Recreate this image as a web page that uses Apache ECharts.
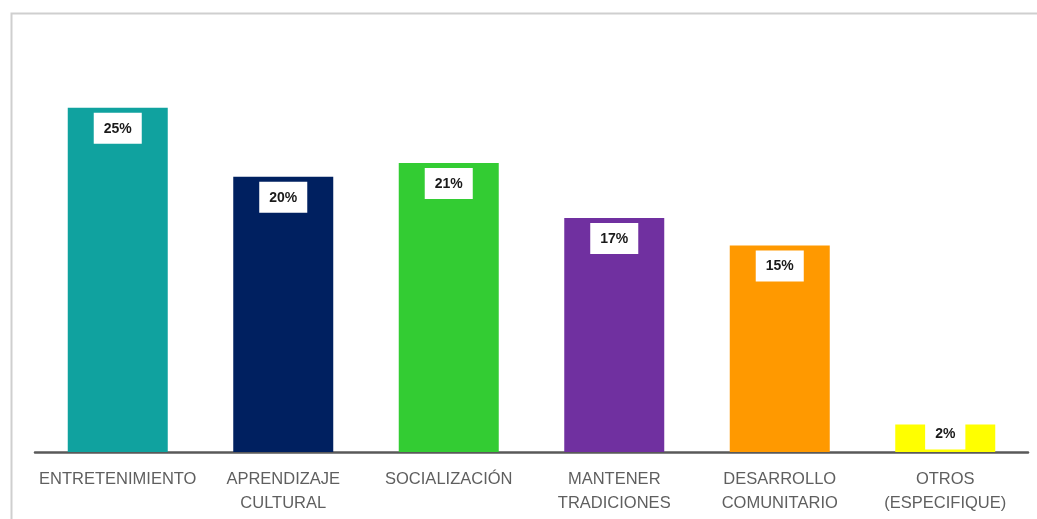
<!DOCTYPE html>
<html>
<head>
<meta charset="utf-8">
<script src="https://cdn.jsdelivr.net/npm/echarts@6/dist/echarts.min.js"></script>
<style>
  html, body { margin: 0; padding: 0; background: #ffffff; }
  #chart { width: 1037px; height: 519px; }
</style>
</head>
<body>
<div id="chart"></div>
<script>
// Motivos de participación (porcentaje de respuestas)
const categories = [
  'ENTRETENIMIENTO',
  'APRENDIZAJE\nCULTURAL',
  'SOCIALIZACIÓN',
  'MANTENER\nTRADICIONES',
  'DESARROLLO\nCOMUNITARIO',
  'OTROS\n(ESPECIFIQUE)'
];
const values = [25, 20, 21, 17, 15, 2];
const barColors = ['#10a29f', '#002060', '#33cc33', '#7030a0', '#ff9900', '#ffff00'];

const chart = echarts.init(document.getElementById('chart'), null, { renderer: 'canvas' });

chart.setOption({
  backgroundColor: '#ffffff',
  animation: false,
  graphic: [{
    type: 'rect',
    shape: { x: 11.5, y: 13.5, width: 1100, height: 600 },
    style: { fill: 'none', stroke: '#cfcfcf', lineWidth: 2 },
    silent: true,
    z: -10
  }],
  grid: { left: 35, right: 9, top: 39, bottom: 67 },
  xAxis: {
    type: 'category',
    data: categories,
    axisLine: { lineStyle: { color: '#595959', width: 2.5 } },
    axisTick: { show: false },
    axisLabel: {
      interval: 0,
      color: '#5f5f5f',
      fontFamily: 'Liberation Sans, Arial, sans-serif',
      fontSize: 16.5,
      lineHeight: 24,
      margin: 15
    }
  },
  yAxis: {
    type: 'value',
    min: 0,
    max: 30,
    show: false,
    splitLine: { show: false }
  },
  series: [{
    type: 'bar',
    barWidth: 100,
    data: values.map((v, i) => {
      const item = { value: v, itemStyle: { color: barColors[i] } };
      // short bar: lift the value box so the bar shows beneath it
      if (v < 5) item.label = { distance: -6 };
      return item;
    }),
    label: {
      show: true,
      position: 'insideTop',
      distance: 5,
      formatter: p => p.value + '%',
      color: '#1a1a1a',
      fontWeight: 'bold',
      fontFamily: 'Liberation Sans, Arial, sans-serif',
      fontSize: 14,
      backgroundColor: '#ffffff',
      padding: [9, 10, 8, 10]
    }
  }]
});
</script>
</body>
</html>
